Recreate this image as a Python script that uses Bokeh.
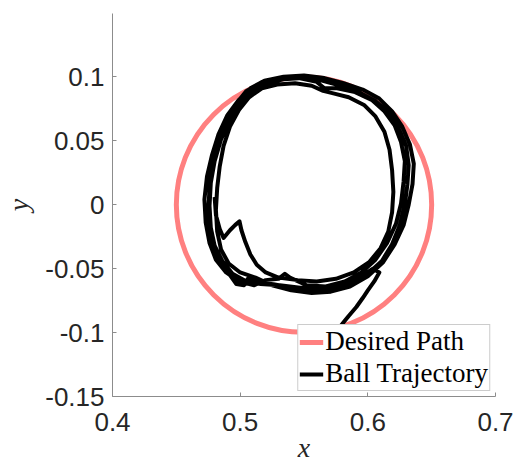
import math
from bokeh.plotting import figure
from bokeh.models import FixedTicker, Range1d, Legend, LegendItem
from bokeh.embed import file_html
from bokeh.resources import INLINE

# ---- ticks ----
x_ticks = [0.4, 0.5, 0.6, 0.7]
x_tick_labels = ["0.4", "0.5", "0.6", "0.7"]
y_ticks = [-0.15, -0.1, -0.05, 0.0, 0.05, 0.1]
y_tick_labels = ["-0.15", "-0.1", "-0.05", "0", "0.05", "0.1"]

# ---- desired path (circle) ----
path_center_x = [0.55]
path_center_y = [0.0]
path_radius = [0.1]

# ---- ball trajectory ----
start_x = [0.480, 0.481, 0.484, 0.487, 0.492, 0.496, 0.4995, 0.501, 0.504, 0.508, 0.513, 0.520]
start_y = [0.006, -0.008, -0.019, -0.026, -0.020, -0.016, -0.013, -0.020, -0.029, -0.039, -0.047, -0.053]

loop1_x = [0.530, 0.545, 0.560, 0.575, 0.589, 0.601, 0.610, 0.616, 0.619, 0.620, 0.619, 0.617, 0.613, 0.606, 0.597,
           0.585, 0.573, 0.565, 0.556, 0.543, 0.529, 0.517, 0.507, 0.499, 0.492, 0.487, 0.484, 0.482, 0.481, 0.482,
           0.485, 0.491, 0.500, 0.512]
loop1_y = [-0.057, -0.059, -0.060, -0.058, -0.053, -0.045, -0.034, -0.021, -0.006, 0.010, 0.027, 0.043, 0.057, 0.069,
           0.078, 0.084, 0.087, 0.089, 0.093, 0.095, 0.094, 0.091, 0.084, 0.074, 0.061, 0.046, 0.030, 0.013, -0.004,
           -0.021, -0.035, -0.046, -0.053, -0.057]

loop2_x = [0.525, 0.540, 0.556, 0.571, 0.586, 0.600, 0.612, 0.621, 0.628, 0.632, 0.635, 0.636, 0.633, 0.627, 0.619,
           0.609, 0.596, 0.581, 0.566, 0.550, 0.534, 0.519, 0.508, 0.499, 0.490, 0.483, 0.478, 0.474, 0.472, 0.473,
           0.476, 0.481, 0.489, 0.499, 0.511]
loop2_y = [-0.063, -0.067, -0.069, -0.068, -0.064, -0.056, -0.045, -0.031, -0.016, 0.000, 0.016, 0.032, 0.047, 0.061,
           0.073, 0.083, 0.090, 0.095, 0.099, 0.101, 0.100, 0.097, 0.091, 0.082, 0.070, 0.055, 0.039, 0.022, 0.004,
           -0.014, -0.030, -0.043, -0.053, -0.060, -0.063]

loop3_x = [0.520, 0.530, 0.535, 0.539, 0.552, 0.567, 0.582, 0.595, 0.606, 0.615, 0.622, 0.626, 0.628, 0.629, 0.626,
           0.621, 0.613, 0.603, 0.590, 0.576, 0.566, 0.560, 0.546, 0.531, 0.517, 0.505, 0.496, 0.488, 0.482, 0.478,
           0.476, 0.475, 0.476, 0.479, 0.485, 0.492, 0.497, 0.503, 0.506, 0.511]
loop3_y = [-0.059, -0.058, -0.054, -0.057, -0.063, -0.064, -0.060, -0.053, -0.043, -0.030, -0.015, 0.001, 0.018, 0.034,
           0.049, 0.062, 0.073, 0.082, 0.088, 0.091, 0.091, 0.096, 0.099, 0.099, 0.096, 0.089, 0.078, 0.064, 0.048,
           0.031, 0.013, -0.005, -0.022, -0.036, -0.047, -0.055, -0.062, -0.063, -0.058, -0.059]

loop4_x = [0.525, 0.541, 0.557, 0.572, 0.587, 0.600, 0.611, 0.619, 0.625, 0.629, 0.631, 0.632, 0.630, 0.624, 0.616,
           0.606, 0.593, 0.579, 0.564, 0.549, 0.534, 0.520, 0.509, 0.500, 0.492, 0.485, 0.480, 0.477, 0.476, 0.477,
           0.480, 0.486, 0.494, 0.505, 0.516, 0.531, 0.547, 0.563, 0.578, 0.592, 0.604, 0.609, 0.605, 0.600, 0.596,
           0.591, 0.585, 0.581, 0.577, 0.574, 0.571]
loop4_y = [-0.062, -0.065, -0.066, -0.065, -0.061, -0.054, -0.044, -0.031, -0.016, 0.000, 0.016, 0.031, 0.046, 0.060,
           0.072, 0.081, 0.088, 0.093, 0.097, 0.099, 0.098, 0.095, 0.089, 0.079, 0.066, 0.051, 0.034, 0.017, -0.001,
           -0.018, -0.032, -0.044, -0.054, -0.060, -0.062, -0.063, -0.065, -0.065, -0.063, -0.058, -0.050, -0.053,
           -0.060, -0.067, -0.073, -0.080, -0.087, -0.092, -0.097, -0.103, -0.110]

traj_x = start_x + loop1_x + loop2_x + loop3_x + loop4_x
traj_y = start_y + loop1_y + loop2_y + loop3_y + loop4_y

PATH_COLOR = "#FF8080"
AXIS_COLOR = "#8c8c8c"
TEXT_COLOR = "#262626"

p = figure(width=515, height=466, output_backend="svg", toolbar_location=None,
           x_range=Range1d(0.4, 0.7), y_range=Range1d(-0.15, 0.1495),
           min_border_left=110, min_border_right=20, min_border_top=13, min_border_bottom=70)
p.outline_line_color = None
p.grid.visible = False
p.background_fill_color = "white"
p.border_fill_color = "white"

# desired path (full arc = circle; legend shows a line)
path = p.arc(x=path_center_x, y=path_center_y, radius=path_radius,
             start_angle=0, end_angle=2 * math.pi,
             line_color=PATH_COLOR, line_width=5)

# trajectory
traj = p.line(x=traj_x, y=traj_y, line_color="black", line_width=4, line_join="round")

# axes
for ax, ticks, labels in ((p.xaxis[0], x_ticks, x_tick_labels), (p.yaxis[0], y_ticks, y_tick_labels)):
    ax.ticker = FixedTicker(ticks=ticks)
    ax.major_label_overrides = {t: l for t, l in zip(ticks, labels)}
    ax.axis_line_color = AXIS_COLOR
    ax.major_tick_line_color = AXIS_COLOR
    ax.major_tick_in = 4
    ax.major_tick_out = 0
    ax.minor_tick_line_color = None
    ax.major_label_text_font = "Liberation Sans"
    ax.major_label_text_font_size = "26px"
    ax.major_label_text_color = TEXT_COLOR
    ax.axis_label_text_font = "Liberation Serif"
    ax.axis_label_text_font_style = "italic"
    ax.axis_label_text_font_size = "28px"
    ax.axis_label_text_color = TEXT_COLOR

p.xaxis.axis_label = "x"
p.yaxis.axis_label = "y"
p.xaxis.major_label_standoff = 16
p.yaxis.major_label_standoff = 8
p.xaxis.axis_label_standoff = -2
p.yaxis.axis_label_standoff = 8

legend = Legend(items=[LegendItem(label="Desired Path", renderers=[path]),
                       LegendItem(label="Ball Trajectory", renderers=[traj])],
                location="bottom_right", margin=5, padding=1, spacing=1,
                glyph_width=24, glyph_height=28, label_height=28, label_standoff=2,
                label_text_font="Liberation Serif", label_text_font_size="27px",
                label_text_color="black",
                border_line_color="#9a9a9a", border_line_width=1,
                background_fill_color="white", background_fill_alpha=1.0)
p.add_layout(legend, "center")

open("out.html", "w").write(file_html(p, INLINE))
